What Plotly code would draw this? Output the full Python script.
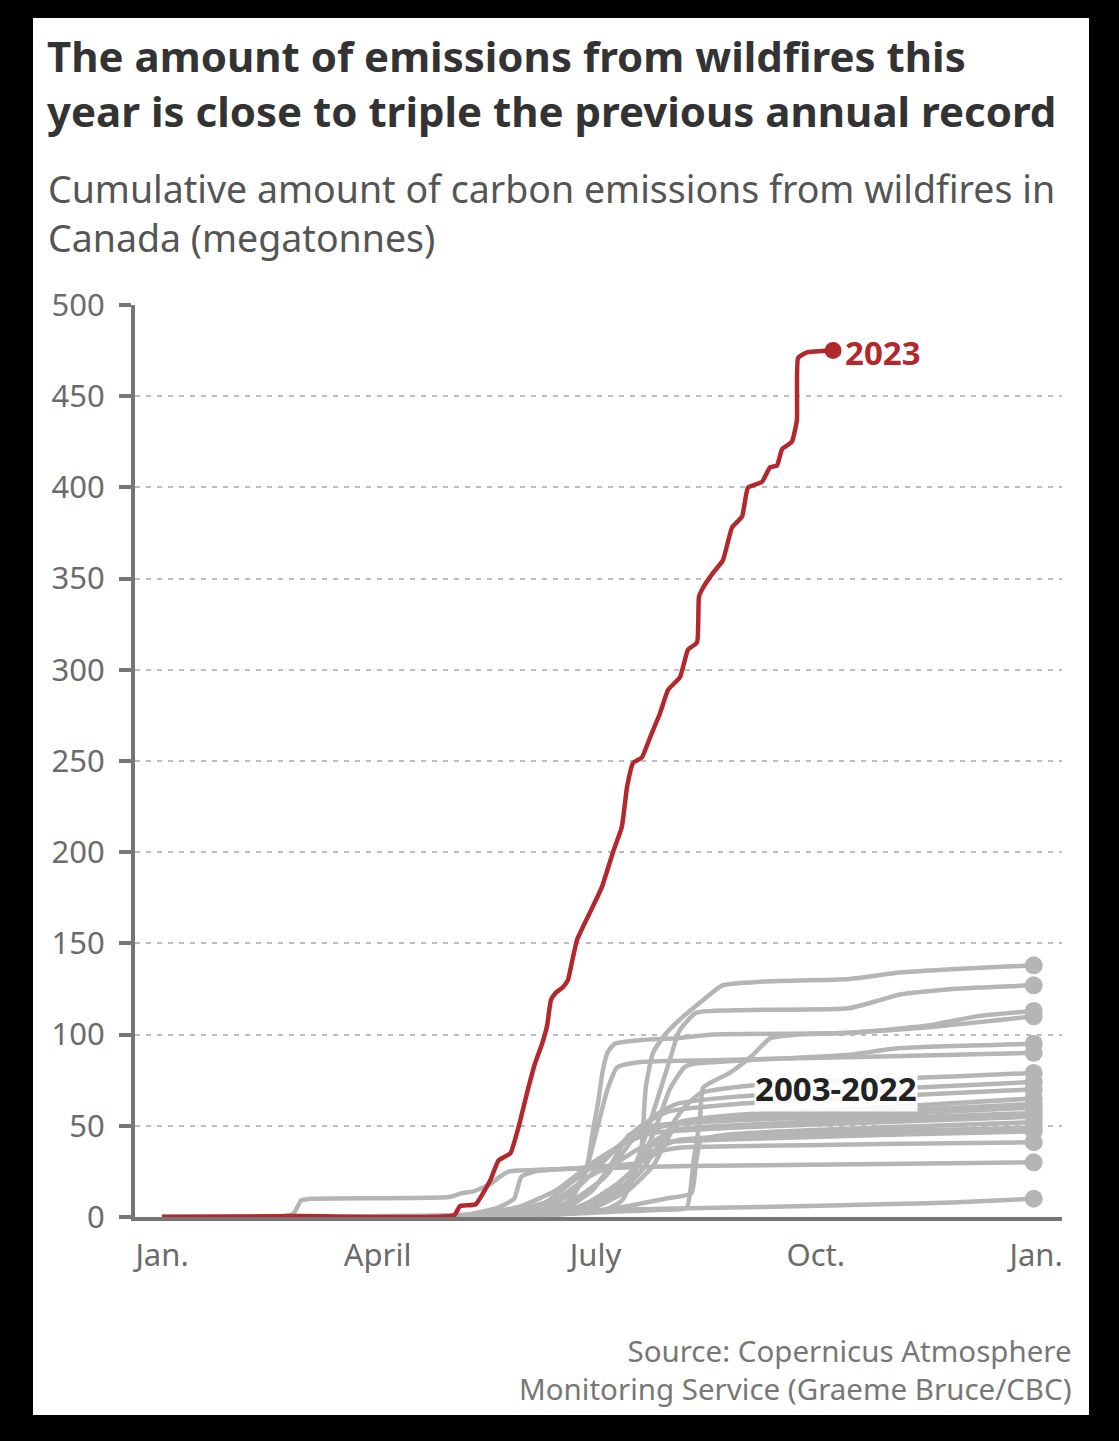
import plotly.graph_objects as go

# day of year (0 = Jan. 1) and cumulative emissions in megatonnes
red_days = [0, 58, 122, 124.4, 131, 137, 140.5, 145.5, 149, 152.4, 155.7, 158.7, 160.8,
            162.4, 164.5, 167.4, 169.5, 171.2, 173.3, 178.7, 183.7, 188.3, 192, 194.2,
            196.7, 200.4, 203.8, 207.9, 211.3, 216.3, 219.6, 223.4, 224.2, 225.9, 230,
            234.2, 238, 242.2, 244.7, 250.5, 253.9, 256.8, 258.9, 263, 265.1, 265.6,
            269.3, 280.2]
red_vals = [0, 0.5, 1, 6, 7, 20, 31, 35, 50, 68, 84, 95, 105,
            119, 123, 126, 130, 140, 152, 167, 181, 200, 214, 236,
            249, 252, 263, 276, 289, 296, 311, 315, 340, 345, 353,
            360, 378, 384, 400, 403, 411, 412, 421, 425, 437, 471,
            474, 475]

past_days = [
    [0, 140, 170, 185, 192, 197, 200, 202, 205, 210, 216, 226, 234, 250, 287, 308, 340, 364],
    [0, 150, 175, 190, 195, 202, 206.7, 212, 216, 223, 245, 287, 300, 308, 330, 364],
    [0, 140, 160, 170, 176, 178, 180, 182, 184, 186, 189, 200, 215, 230, 287, 320, 340, 364],
    [0, 150, 190, 210, 219, 222, 224.6, 226, 237, 246, 254, 265, 287, 320, 364],
    [0, 150, 180, 195, 205, 212, 218, 222, 245, 287, 308, 364],
    [0, 150, 165, 172, 178, 182, 186, 190, 200, 230, 300, 364],
    [0, 150, 185, 200, 210, 218, 225, 245, 287, 330, 364],
    [0, 145, 170, 185, 195, 205, 215, 240, 300, 364],
    [0, 140, 160, 175, 190, 200, 212, 240, 300, 364],
    [0, 150, 180, 195, 205, 212, 216, 240, 300, 364],
    [0, 130, 150, 165, 180, 195, 210, 240, 300, 364],
    [0, 150, 170, 180, 188, 195, 205, 240, 300, 364],
    [0, 155, 175, 190, 200, 206, 215, 250, 300, 364],
    [0, 140, 160, 170, 180, 192, 205, 240, 300, 364],
    [0, 160, 190, 210, 221, 223, 225, 235, 260, 300, 364],
    [0, 150, 170, 185, 196, 205, 215, 250, 300, 364],
    [0, 145, 165, 178, 190, 200, 210, 250, 300, 364],
    [0, 125, 140, 147, 150, 156, 175, 200, 208, 216, 250, 300, 364],
    [0, 50, 55, 58, 62, 120, 125, 130, 137, 141, 145, 160, 175, 190, 220, 300, 364],
    [0, 120, 150, 190, 250, 300, 330, 364],
]
past_vals = [
    [0, 0.5, 3, 4, 9, 22, 35, 71, 90, 100, 108, 119, 127, 129, 130.5, 134, 136.5, 138],
    [0, 0.5, 4, 15, 20, 45, 64, 86, 102, 112, 113.5, 114.5, 119, 122, 125, 127],
    [0, 0.5, 5, 12, 22, 31, 48, 62, 80, 90, 95, 97, 98, 100, 101, 105, 110, 113],
    [0, 0.5, 3, 4, 5, 31, 53, 71, 79, 88, 98, 100, 101, 104, 110],
    [0, 0.5, 5, 20, 45, 70, 82, 84, 86, 89, 92.6, 95],
    [0, 0.5, 4, 12, 30, 50, 70, 82, 85, 86, 88, 90],
    [0, 0.5, 8, 25, 45, 60, 68, 72, 75, 77, 79],
    [0, 1, 8, 22, 40, 55, 62, 66, 70, 74],
    [0, 1, 5, 18, 38, 50, 58, 62, 66, 70],
    [0, 0.5, 5, 15, 28, 45, 52, 56, 60, 65],
    [0, 1, 6, 15, 30, 42, 50, 54, 58, 62],
    [0, 1, 6, 15, 30, 45, 50, 53, 56, 60],
    [0, 1, 6, 18, 30, 42, 48, 51, 54, 57],
    [0, 2, 8, 18, 28, 40, 46, 49, 52, 55],
    [0, 1, 5, 10, 13, 30, 42, 45, 47, 49, 52],
    [0, 1, 4, 12, 25, 36, 42, 45, 47, 49],
    [0, 2, 10, 22, 30, 38, 41, 43, 45, 47],
    [0, 1, 5, 10, 22, 25, 27, 30, 36, 38, 39, 40, 41],
    [0, 0.3, 2, 9, 10, 11, 13, 14, 18, 22, 25, 26, 26.5, 27, 28, 29, 30],
    [0, 0.5, 1, 4, 5.5, 7, 8, 10],
]

tick_days = [0, 90, 181, 273, 365]
tick_text = ['Jan.', 'April', 'July', 'Oct.', 'Jan.']

RED = '#b3282d'
GREY = '#b5b5b5'
AXIS = '#767676'
FONT = 'Noto Sans'

# plot area in pixels, used to place the text blocks
L, R, T, B = 135, 1062, 305, 1217


def px(x):
    return (x - L) / (R - L)


def py(y):
    return (B - y) / (B - T)


fig = go.Figure()

for d, v in zip(past_days, past_vals):
    fig.add_trace(go.Scatter(x=d, y=v, mode='lines',
                             line=dict(color=GREY, width=4.5, shape='spline', smoothing=0.5),
                             hoverinfo='skip'))

fig.add_trace(go.Scatter(x=[d[-1] for d in past_days], y=[v[-1] for v in past_vals],
                         mode='markers', marker=dict(color=GREY, size=18),
                         cliponaxis=False, hoverinfo='skip'))

fig.add_trace(go.Scatter(x=red_days, y=red_vals, mode='lines',
                         line=dict(color=RED, width=4.5, shape='spline', smoothing=0.4),
                         hoverinfo='skip'))
fig.add_trace(go.Scatter(x=[red_days[-1]], y=[red_vals[-1]], mode='markers',
                         marker=dict(color=RED, size=17), cliponaxis=False))

annotations = [
    dict(x=px(45), y=py(83),
         text='<b>The amount of emissions from wildfires this<br>'
              'year is close to triple the previous annual record</b>',
         xanchor='left', align='left', font=dict(size=42, color='#333333')),
    dict(x=px(46), y=py(189), text='Cumulative amount of carbon emissions from wildfires in',
         xanchor='left', align='left', font=dict(size=37.5, color='#555555')),
    dict(x=px(46), y=py(237), text='Canada (megatonnes)',
         xanchor='left', align='left', font=dict(size=37.5, color='#555555')),
    dict(x=px(1074), y=py(1369),
         text='Source: Copernicus Atmosphere<br>Monitoring Service (Graeme Bruce/CBC)',
         xanchor='right', align='right', font=dict(size=29.5, color='#777777')),
]
for a in annotations:
    a.update(xref='paper', yref='paper', yanchor='middle', showarrow=False)

annotations += [
    dict(x=red_days[-1] + 4, y=red_vals[-1] - 1, text='<b>2023</b>', xanchor='left',
         showarrow=False, font=dict(size=33, color=RED)),
    dict(x=281.5, y=70.5, text='<b>2003-2022</b>', showarrow=False,
         bgcolor='rgba(255,255,255,0.9)', borderpad=0,
         font=dict(size=33, color='#222222')),
]

fig.update_layout(
    width=1119, height=1441,
    margin=dict(l=L, r=1119 - R, t=T, b=1441 - B),
    paper_bgcolor='black', plot_bgcolor='white',
    showlegend=False,
    font=dict(family=FONT, color='#6b6b6b'),
    annotations=annotations,
    # white card behind the whole graphic
    shapes=[dict(type='rect', xref='paper', yref='paper', layer='below',
                 x0=px(33), x1=px(1089), y0=py(1415), y1=py(18),
                 fillcolor='white', line_width=0)],
)

fig.update_xaxes(range=[-11.3, 375.8], tickvals=tick_days, ticktext=tick_text,
                 showgrid=False, zeroline=False, showline=True, linecolor=AXIS,
                 linewidth=4, ticks='', ticklabelstandoff=8,
                 tickfont=dict(size=31, color='#6b6b6b'))
fig.update_yaxes(range=[0, 500], dtick=50, showgrid=True, gridcolor='#bdbdbd',
                 gridwidth=2, griddash='5px,6px', zeroline=False, showline=True,
                 linecolor=AXIS, linewidth=4, ticks='outside', ticklen=12,
                 tickwidth=4, tickcolor=AXIS, ticklabelstandoff=8,
                 tickfont=dict(size=31, color='#6b6b6b'))

# drop the default page margin so the figure sits at the window corner
fig.write_html('out.html', config={'displayModeBar': False},
               post_script="document.body.style.margin='0';")
